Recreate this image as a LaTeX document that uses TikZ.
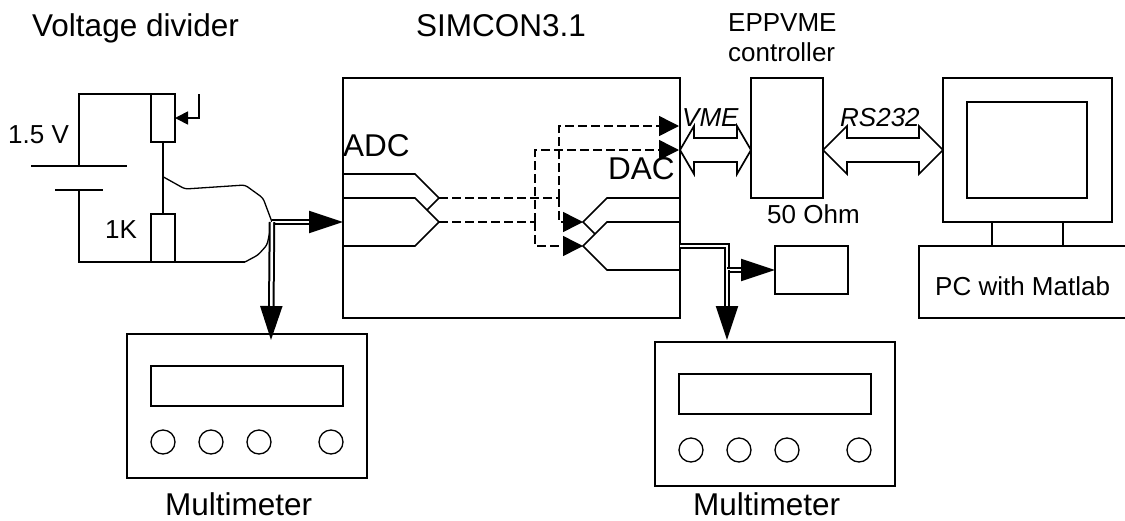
\documentclass[tikz,border=0pt]{standalone}
\usepackage{fontspec}
\setmainfont{Liberation Sans}
\usetikzlibrary{positioning,arrows.meta,calc}
\tikzset{
  box/.style={draw,line width=1.7pt,inner sep=0pt,outer sep=0pt,anchor=north west},
  knob/.style={draw,circle,line width=1.3pt,minimum size=24pt,inner sep=0pt},
  big label/.style={inner sep=0pt,anchor=base west,font=\fontsize{31.5}{30}\selectfont},
  small label/.style={inner sep=0pt,anchor=base west,font=\fontsize{26}{30}\selectfont},
  wire/.style={line width=1.7pt,line join=miter},
  thin wire/.style={line width=1.3pt,rounded corners=3pt},
  ctrl line/.style={line width=1.5pt,dash pattern=on 9pt off 4pt},
  ctrl arrow/.style={ctrl line,-{Triangle[length=20pt,width=20pt]}},
  signal arrow/.style={line width=2pt,double,double distance=2.5pt,-{Triangle[length=34pt,width=22pt]}},
  signal line/.style={line width=2pt,double,double distance=2.5pt},
  bus arrow/.style={draw,line width=1.7pt,line join=miter},
}
\newcommand{\busarrow}[3]{
  \draw[bus arrow] (#1) -- ++(#3,-24) -- ++(0,12) -- ($(#2)+(-#3,-12)$) -- ++(0,-12) -- (#2)
    -- ++(-#3,24) -- ++(0,-12) -- ($(#1)+(#3,12)$) -- ++(0,12) -- cycle;
}
\begin{document}
\begin{tikzpicture}[x=1pt,y=-1pt]
\useasboundingbox (0,0) rectangle (1125,520);
% the boxes
\node [box,minimum width=337pt,minimum height=240pt] (simcon) at (343,78) {};
\node [box,minimum width=72pt,minimum height=120pt] (ctrl) at (751,78) {};
\node [box,minimum width=169pt,minimum height=144pt] (monitor) at (943,78) {};
\node [box,minimum width=120pt,minimum height=96pt] (screen) at (967,102) {};
\node [box,minimum width=215pt,minimum height=72pt] (pc) at (919,246) {};
\node [box,minimum width=73pt,minimum height=48pt] (load) at (775,246) {};
\node [box,minimum width=24pt,minimum height=48pt] (pot) at (151,94) {};
\node [box,minimum width=24pt,minimum height=48pt] (res) at (151,214) {};
% the multimeters
\foreach \mname/\mx/\my in {meterA/127/334,meterB/655/342}{
  \node [box,minimum width=240pt,minimum height=144pt] (\mname) at (\mx,\my) {};
  \node [box,minimum width=192pt,minimum height=40pt] (\mname disp) at (\mx+24,\my+32) {};
  \foreach \kx in {36,84,132,204}
    \node [knob] (\mname knob\kx) at (\mx+\kx,\my+108) {};
}
% the labels
\node [big label] (lblDiv) at (32,36) {Voltage divider};
\node [big label] (lblSim) at (416,36) {SIMCON3.1};
\node [small label] (lblEpp) at (728,31) {EPPVME};
\node [small label] (lblCon) at (728,61) {controller};
\node [small label] (lblBat) at (8,143) {1.5 V};
\node [small label] (lblRes) at (105,238) {1K};
\node [big label] (lblAdc) at (343,156) {ADC};
\node [big label] (lblDac) at (608,179) {DAC};
\node [small label,font=\fontsize{26}{30}\selectfont\itshape] (lblVme) at (682,126) {VME};
\node [small label,font=\fontsize{26}{30}\selectfont\itshape] (lblRs) at (840,126) {RS232};
\node [small label] (lblOhm) at (767,223) {50 Ohm};
\node [small label] (lblPc) at (935,295) {PC with Matlab};
\node [big label] (lblMa) at (165,515) {Multimeter};
\node [big label] (lblMb) at (693,515) {Multimeter};
% the named points
\coordinate (battP) at (79,166);
\coordinate (battN) at (79,190);
\coordinate (tap) at (163.5,177);
\coordinate (out) at (272,222);
\coordinate (wiper) at (199,94);
\coordinate (adcA) at (415,174);
\coordinate (adcB) at (415,198);
\coordinate (adcC) at (415,246);
\coordinate (adcTop) at (439,198);
\coordinate (adcBot) at (439,222);
\coordinate (dacA) at (607,198);
\coordinate (dacB) at (607,222);
\coordinate (dacC) at (607,270);
\coordinate (dacTop) at (583,222);
\coordinate (dacBot) at (583,246);
\coordinate (vmeA) at (679,126);
\coordinate (vmeB) at (679,150);
\coordinate (jctA) at (559,198);
\coordinate (jctB) at (535,222);
\coordinate (dacOut) at (727,246);
\coordinate (branch) at (727,270);
\coordinate (tipA) at (271,340);
\coordinate (tipB) at (727,340);
\coordinate (standA) at (992,222);
\coordinate (standB) at (1063,222);
% battery and divider
\draw[wire] (pot.north west) -| (battP);
\draw[wire] (res.south west) -| (battN);
\draw[wire] ([xshift=-48pt]battP) -- ([xshift=48pt]battP);
\draw[wire] ([xshift=-24pt]battN) -- ([xshift=24pt]battN);
\draw[thin wire] (pot.south) -- (res.north);
\draw[wire,-{Triangle[length=13pt,width=13pt]}] (wiper) |- (pot.east);
\draw[thin wire] (tap) -- (185,189) -- (245,185) -- (263,198) -- (out);
\draw[wire] (res.south east) -- (245,262);
\draw[thin wire] (245,262) -- (258,255) -- (267,245) -- (out);
\draw[signal arrow] (out) -- (simcon.west |- out);
\draw[signal arrow] (out) -- (tipA);
% ADC side
\draw[wire] (simcon.west |- adcA) -- (adcA) -- (adcTop) -- (427,210);
\draw[wire] (simcon.west |- adcB) -- (adcB) -- (adcBot) -- (adcC) -- (simcon.west |- adcC);
% DAC side
\draw[wire] (simcon.east |- dacA) -- (dacA) -- (dacTop) -- (595,234);
\draw[wire] (simcon.east |- dacB) -- (dacB) -- (dacBot) -- (dacC) -- (simcon.east |- dacC);
% control lines
\draw[ctrl line] (adcTop) -- (jctA);
\draw[ctrl line] (adcBot) -- (jctB);
\draw[ctrl arrow] (jctA) |- (vmeA);
\draw[ctrl arrow] (jctB) |- (vmeB);
\draw[ctrl arrow] (jctA) |- (dacTop);
\draw[ctrl arrow] (jctB) |- (dacBot);
% DAC outputs
\draw[signal line] (simcon.east |- dacOut) -- (dacOut) -- (branch);
\draw[signal arrow] (branch) -- (load.west |- branch);
\draw[signal arrow] (branch) -- (tipB);
% buses
\busarrow{simcon.east |- vmeB}{ctrl.west |- vmeB}{14}
\busarrow{ctrl.east |- vmeB}{monitor.west |- vmeB}{24}
% PC stand
\draw[wire] (standA) -- (standA |- pc.north);
\draw[wire] (standB) -- (standB |- pc.north);
\end{tikzpicture}
\end{document}
